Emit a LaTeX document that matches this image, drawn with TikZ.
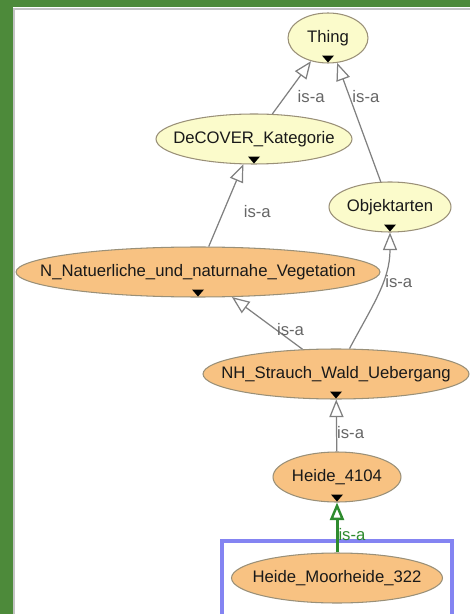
\documentclass[tikz,border=0pt]{standalone}
\usepackage{fontspec}
\setmainfont{Liberation Sans}
\usetikzlibrary{arrows.meta,shapes.geometric}
\definecolor{frame}{HTML}{4D8A3A}
\definecolor{framegray}{HTML}{C4C4C4}
\definecolor{clsline}{HTML}{9A9078}
\definecolor{clsyellow}{HTML}{FBFBCB}
\definecolor{clsorange}{HTML}{F8C282}
\definecolor{edgegray}{HTML}{808080}
\definecolor{lblgray}{HTML}{666666}
\definecolor{isagreen}{HTML}{2E8B2E}
\definecolor{selblue}{HTML}{8484F2}
\tikzset{
  cls/.style={ellipse, draw=clsline, line width=0.6pt, minimum height=1cm,
    inner sep=0pt, text height=7pt, text depth=1.5pt, text=black!90,
    font=\fontsize{9.5}{11}\selectfont,
    execute at begin node={\hbox to 0pt\bgroup\hss},
    execute at end node={\hss\egroup}},
  topcls/.style={cls, fill=clsyellow},
  subcls/.style={cls, fill=clsorange},
  lbl/.style={font=\fontsize{9.5}{11}\selectfont, text=lblgray, inner sep=0pt},
  isa/.style={draw=edgegray, line width=0.7pt,
    -{Triangle[length=10pt, width=8pt, fill=white]}},
  isagreen/.style={draw=isagreen, line width=1.7pt,
    -{Triangle[length=10pt, width=8pt, fill=white, line width=1.4pt]}}
}
\begin{document}
\begin{tikzpicture}[x=0.02cm, y=-0.02cm]
      \clip (0,0) rectangle (470,614);
      \fill[white] (0,0) rectangle (470,614);
      \fill[frame] (0,0) rectangle (470,7.5);
      \fill[frame] (0,0) rectangle (12.5,614);
      \draw[framegray, line width=0.8pt] (14,614) |- (470,9);
      % selection
      \draw[selblue, line width=1.8pt] (222,541) rectangle (452,618);
      \draw
        (328,38) node[topcls, minimum width=1.6cm] (thing){Thing}
        (254,139) node[topcls, minimum width=3.92cm] (decover){DeCOVER\_Kategorie}
        (390,207) node[topcls, minimum width=2.44cm] (objekt){Objektarten}
        (198,272) node[subcls, minimum width=7.28cm] (nnat){N\_Natuerliche\_und\_naturnahe\_Vegetation}
        (336,374) node[subcls, minimum width=5.32cm] (nh){NH\_Strauch\_Wald\_Uebergang}
        (337,477) node[subcls, minimum width=2.56cm] (h4104){Heide\_4104}
        (337,578) node[subcls, minimum width=4.22cm] (moor){Heide\_Moorheide\_322};
      \begin{scope}[isa]
        \draw (decover) -- node[lbl, pos=0.33, anchor=west, xshift=0.24cm] {is-a} (thing);
        \draw (objekt) -- node[lbl, pos=0.72, anchor=west, xshift=0.05cm] {is-a} (thing);
        \draw (nnat) -- node[lbl, pos=0.42, anchor=west, xshift=0.4cm] {is-a} (decover);
        \draw (nh) to[out=62, in=-90] node[lbl, pos=0.6, anchor=west, xshift=0.05cm] {is-a} (objekt);
        \draw (nh) -- node[lbl, pos=0.37, anchor=west] {is-a} (nnat);
        \draw (h4104) -- node[lbl, pos=0.36, anchor=west] {is-a} (nh);
      \end{scope}
      \draw[isagreen] (moor) -- node[lbl, text=isagreen, pos=0.35, anchor=west] {is-a} (h4104);
      % expand markers
      \fill (thing.south) ++(0,-1) -- ++(-6,-7) -- ++(12,0) -- cycle;
      \fill (decover.south) ++(0,-1) -- ++(-6,-7) -- ++(12,0) -- cycle;
      \fill (objekt.south) ++(0,-1) -- ++(-6,-7) -- ++(12,0) -- cycle;
      \fill (nnat.south) ++(0,-1) -- ++(-6,-7) -- ++(12,0) -- cycle;
      \fill (nh.south) ++(0,-1) -- ++(-6,-7) -- ++(12,0) -- cycle;
      \fill (h4104.south) ++(0,-1) -- ++(-6,-7) -- ++(12,0) -- cycle;
    \end{tikzpicture}
\end{document}
